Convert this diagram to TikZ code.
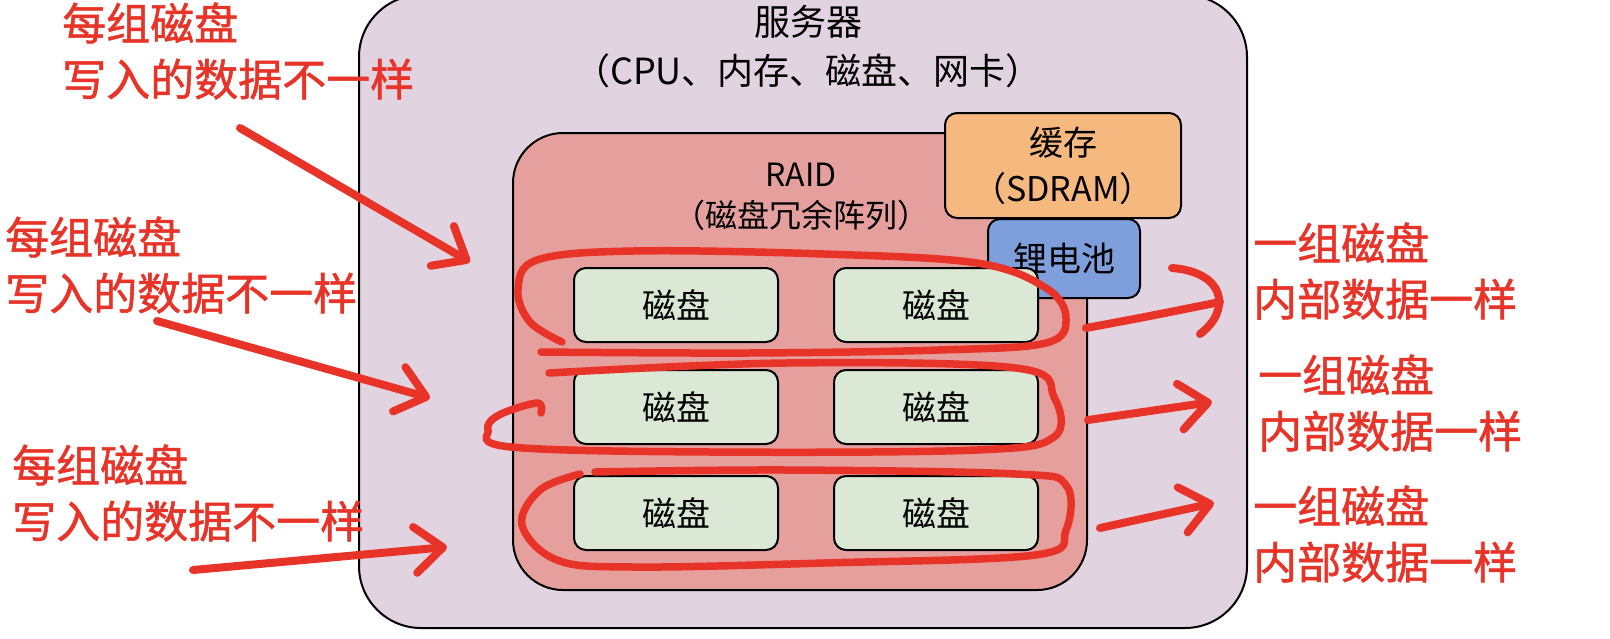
\documentclass[tikz,border=0pt]{standalone}
\usepackage{fontspec}
\setmainfont{Noto Sans CJK SC}
\newfontfamily\notefont[FakeBold=1.2]{Noto Sans CJK SC}
\usetikzlibrary{arrows.meta}
\definecolor{serverbg}{RGB}{226,211,224}
\definecolor{raidbg}{RGB}{229,160,158}
\definecolor{diskbg}{RGB}{219,232,213}
\definecolor{cachebg}{RGB}{245,184,126}
\definecolor{batterybg}{RGB}{126,159,220}
\definecolor{pen}{RGB}{232,52,40}
\begin{document}
\begin{tikzpicture}[
    x=1pt,
    y=-1pt,
    box/.style={draw=black,line width=2pt,rounded corners=12pt,inner sep=0pt},
    disk/.style={box,fill=diskbg,minimum width=204pt,minimum height=74pt,
      font=\fontsize{34}{40}\selectfont},
    title/.style={align=center,inner sep=0pt},
    note/.style={text=pen,align=left,inner sep=0pt,anchor=west,
      font=\notefont\fontsize{44}{56}\selectfont},
    ring/.style={draw=pen,line width=7.5pt,line cap=round,line join=round},
    hint/.style={ring,line width=8pt,-{Straight Barb[length=28pt,width=46pt,round]}}
  ]
    \useasboundingbox (0,0) rectangle (1610,638);

    \draw[fill=serverbg,line width=2pt,rounded corners=62pt]
      (359,-5) rectangle (1247,628);
    \draw[fill=raidbg,line width=2pt,rounded corners=50pt]
      (513,133) rectangle (1087,590);

    \node[title,font=\fontsize{36}{49}\selectfont] (srvtitle) at (808,47)
      {服务器\\（CPU、内存、磁盘、网卡）};
    \node[title,font=\fontsize{32}{41}\selectfont] (raidtitle) at (801,197)
      {RAID\\（磁盘冗余阵列）};

    \node[box,fill=cachebg,minimum width=236pt,minimum height=105pt,align=center,
      font=\fontsize{34}{46}\selectfont] (cache) at (1063,165.5)
      {缓存\\（SDRAM）};
    \node[box,fill=batterybg,minimum width=152pt,minimum height=79pt,
      font=\fontsize{34}{40}\selectfont] (battery) at (1064,258.5) {锂电池};

    \foreach \r/\y in {1/305,2/407,3/513} {
      \node[disk] (d\r1) at (676,\y) {磁盘};
      \node[disk] (d\r2) at (936,\y) {磁盘};
    }

    \draw[ring] plot[smooth,tension=0.6] coordinates {
      (562,342) (530,322) (518,290) (537,260) (633,251) (824,254) (977,263)
      (1046,288) (1066,318) (1046,343) (939,350) (748,353) (541,352)};
    \draw[ring] plot[smooth,tension=0.6] coordinates {
      (549,373) (786,363) (1016,368) (1054,397) (1054,437) (977,450)
      (710,452) (511,447) (488,430) (499,415) (537,403) (541,413)};
    \draw[ring] plot[smooth,tension=0.6] coordinates {
      (595,472) (786,470) (1016,474) (1066,485) (1066,530) (1035,555)
      (824,563) (633,567) (557,560) (522,525) (540,490) (580,474)};

    \node[note] (lw1) at (62,51) {每组磁盘\\写入的数据不一样};
    \node[note] (lw2) at (5,265) {每组磁盘\\写入的数据不一样};
    \node[note] (lw3) at (12,493) {每组磁盘\\写入的数据不一样};
    \node[note] (rw1) at (1253,271) {一组磁盘\\内部数据一样};
    \node[note] (rw2) at (1258,403) {一组磁盘\\内部数据一样};
    \node[note] (rw3) at (1253,534) {一组磁盘\\内部数据一样};

    \coordinate (a1s) at (240,128);
    \coordinate (a1e) at (470,262);
    \coordinate (a2s) at (157,321);
    \coordinate (a2e) at (430,398);
    \coordinate (a3s) at (193,570);
    \coordinate (a3e) at (447,547);
    \coordinate (b1s) at (1086,328);
    \coordinate (b1e) at (1220,302);
    \coordinate (b2s) at (1088,420);
    \coordinate (b2e) at (1212,402);
    \coordinate (b3s) at (1100,528);
    \coordinate (b3e) at (1214,503);

    \draw[hint] (a1s) -- (a1e);
    \draw[hint] (a2s) -- (a2e);
    \draw[hint] (a3s) -- (a3e);
    \draw[ring,line width=8pt] (b1s) .. controls (1140,318) .. (b1e);
    \draw[ring,line width=8pt] (1172,268) .. controls (1225,272) and (1232,310) .. (1200,334);
    \draw[hint] (b2s) -- (b2e);
    \draw[hint] (b3s) -- (b3e);
  \end{tikzpicture}
\end{document}
